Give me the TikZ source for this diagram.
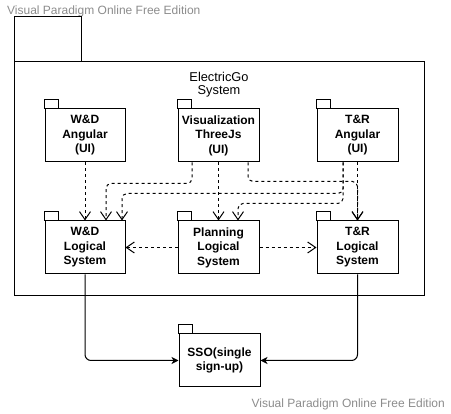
\documentclass[tikz,border=0pt]{standalone}
\usepackage{fontspec}
\setmainfont{Liberation Sans}
\usetikzlibrary{arrows.meta}
\definecolor{wm}{RGB}{140,140,140}
\tikzset{
  pkg/.style={draw, line width=1pt, minimum width=80pt, minimum height=53pt, align=center, inner sep=0pt,
    font=\fontsize{12}{14.5}\selectfont\bfseries},
  dep/.style={draw, line width=1pt, dash pattern=on 3pt off 3pt, -{Straight Barb[length=8pt,width=11pt,line width=1pt]}},
  use/.style={draw, line width=1pt, rounded corners=6pt, -{Stealth[length=7pt,width=7pt,inset=2pt]}},
  wmark/.style={text=wm, font=\fontsize{12}{14}\selectfont, inner sep=0pt}
}
\begin{document}
\begin{tikzpicture}[x=1pt,y=-1pt]
\useasboundingbox (0,0) rectangle (451,414);
% watermarks
\node[wmark, anchor=west] (wm1) at (7,11) {Visual Paradigm Online Free Edition};
\node[wmark, anchor=east] (wm2) at (445,404) {Visual Paradigm Online Free Edition};
% outer package
\draw[line width=1pt] (14,17) rectangle (81,62);
\node[draw, line width=1pt, minimum width=410pt, minimum height=234pt, inner sep=0pt] (sys) at (219,179) {};
\node[font=\fontsize{12.8}{13.5}\selectfont, align=center] (title) at (219,84.5) {ElectricGo\\System};
% packages
\node[pkg] (wda) at (85,135.5) {W\&D\\Angular\\(UI)};
\node[pkg, minimum width=81pt] (viz) at (218.5,135.5) {Visualization\\ThreeJs\\(UI)};
\node[pkg, minimum width=81pt] (tra) at (357.5,135.5) {T\&R\\Angular\\(UI)};
\node[pkg] (wdl) at (85,247.5) {W\&D\\Logical\\System};
\node[pkg, minimum width=81pt] (pl) at (218.5,247.5) {Planning\\Logical\\System};
\node[pkg, minimum width=81pt] (trl) at (357.5,247.5) {T\&R\\Logical\\System};
\node[pkg, minimum width=81pt] (sso) at (219.5,360.5) {SSO(single\\sign-up)};
% tabs
\foreach \n in {wda,viz,tra,wdl,pl,trl,sso}
  \draw[line width=1pt] (\n.north west) rectangle ++(14pt,9pt);
% dependencies
\draw[dep] (wda) -- (wdl);
\draw[dep] (viz) -- (pl);
\draw[dep] (tra) -- (trl);
\draw[dep, rounded corners=5pt] ([xshift=-26.5pt]viz.south) -- ++(0,21) -| ([xshift=21pt]wdl.north);
\draw[dep, rounded corners=5pt] ([xshift=-14.5pt]tra.south) -- ++(0,31) -| ([xshift=37pt]wdl.north);
\draw[dep, rounded corners=5pt] ([xshift=-14.5pt]tra.south) -- ++(0,41) -| ([xshift=19.5pt]pl.north);
\draw[dep, rounded corners=5pt] ([xshift=29.5pt]viz.south) -- ++(0,19) -| (trl.north);
\draw[dep] (pl) -- (wdl);
\draw[dep] (pl) -- (trl);
% usage
\draw[use] (wdl.south) |- (sso.west);
\draw[use] (trl.south) |- (sso.east);
\end{tikzpicture}
\end{document}
